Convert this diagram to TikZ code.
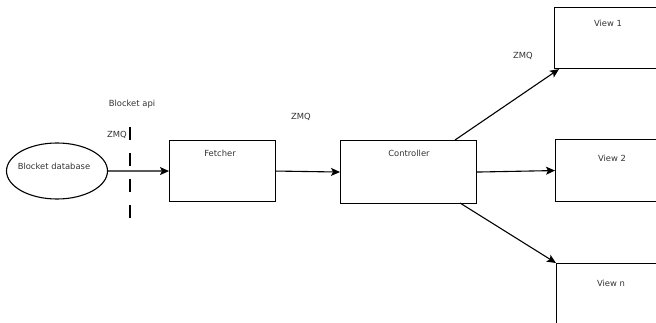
\documentclass[tikz,border=0pt]{standalone}
\usepackage{fontspec}
\setmainfont{DejaVu Sans}
\usetikzlibrary{arrows.meta,shapes.geometric}
\begin{document}
\begin{tikzpicture}[x=1pt,y=-1pt,
  every node/.style={font=\fontsize{8.4}{10}\selectfont, text=black!80},
  blk/.style={draw, line width=1.1pt, minimum width=0pt, minimum height=0pt, inner sep=0pt, anchor=north west},
  conn/.style={line width=1.1pt, -{Stealth[length=9pt,width=8pt,inset=2pt]}},
  lbl/.style={inner sep=0pt}]
\clip (0,0) rectangle (656,323);
\node[draw, ellipse, line width=1.1pt, minimum width=101pt, minimum height=56pt, inner sep=0pt] (db) at (57,171) {};
\node[lbl] (dbl) at (54,166) {Blocket database};
\node[blk, minimum width=106pt, minimum height=61pt] (fet) at (169,140) {};
\node[lbl] at (220,153) {Fetcher};
\node[blk, minimum width=136pt, minimum height=63pt] (ctl) at (340,140) {};
\node[lbl] at (409,153) {Controller};
\node[blk, minimum width=110pt, minimum height=61pt] (v1) at (554,7) {};
\node[lbl] at (608,23) {View 1};
\node[blk, minimum width=114pt, minimum height=62pt] (v2) at (555,139) {};
\node[lbl] at (612,158) {View 2};
\node[blk, minimum width=112pt, minimum height=80pt] (vn) at (556,263) {};
\node[lbl] at (611,283) {View n};
\coordinate (d1) at (130,127);
\coordinate (d2) at (130,221);
\coordinate (v1in) at ([xshift=5pt]v1.south west);
\draw[line width=2pt, dash pattern=on 13pt off 13pt] (d1) -- (d2);
\node[lbl] at (132,104) {Blocket api};
\node[lbl] at (117,135) {ZMQ};
\node[lbl] at (301,117) {ZMQ};
\node[lbl] at (523,56) {ZMQ};
\draw[conn] (db.east) -- (fet.west);
\draw[conn] (fet.east) -- (ctl.west);
\draw[conn] (ctl.east) -- (v2.west);
\draw[conn] (455,140) -- (v1in);
\draw[conn] (460,203) -- (vn.north west);
\end{tikzpicture}
\end{document}
